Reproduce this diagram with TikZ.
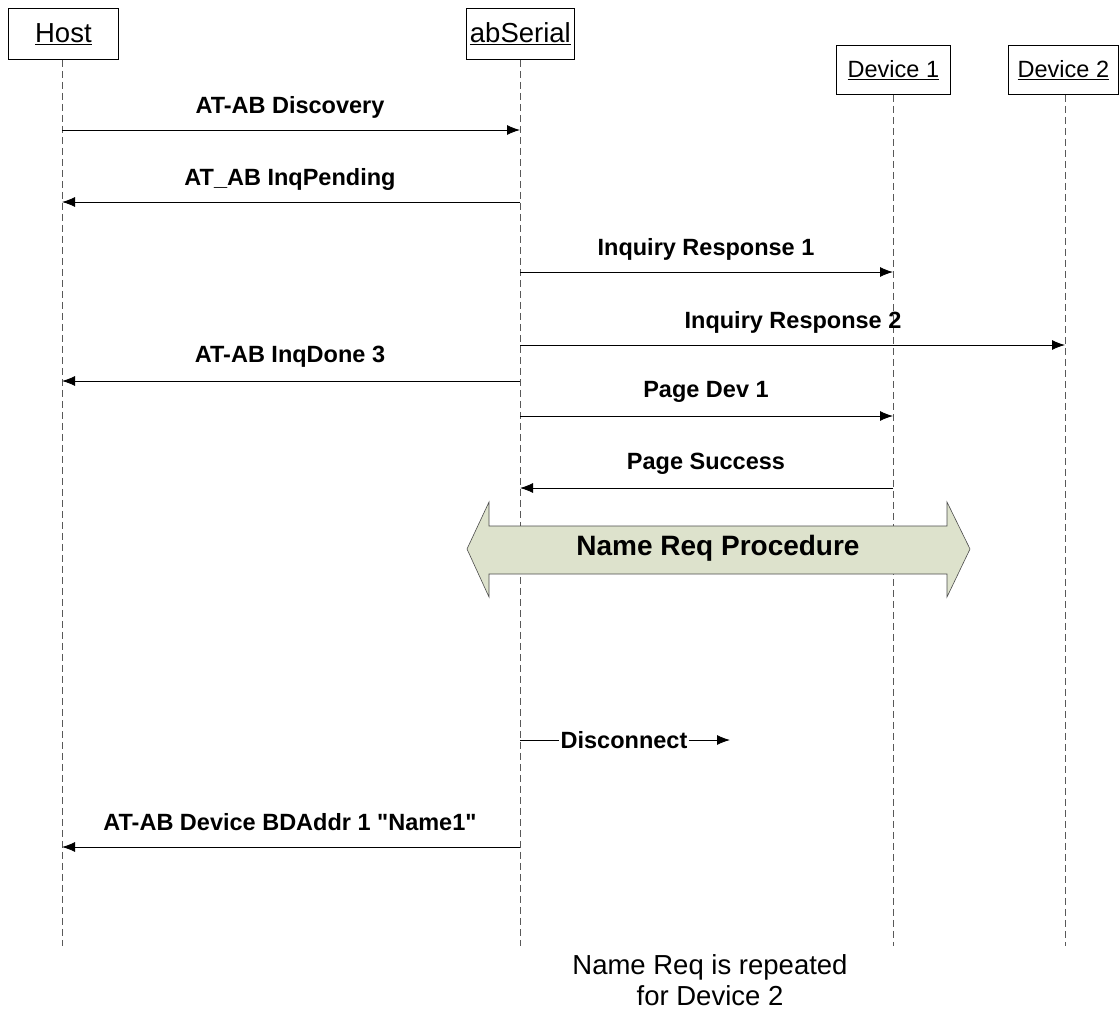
\documentclass[tikz,border=0pt]{standalone}
\usepackage{fontspec}
\setmainfont{Liberation Sans}[Ligatures=TeXOff]
\usetikzlibrary{arrows.meta}
\definecolor{procfill}{HTML}{DDE2CC}
\tikzset{
  actor/.style={draw=black, line width=0.8pt, fill=white, inner sep=0pt, anchor=north west},
  lifeline/.style={draw=gray!70!black, line width=0.8pt, dash pattern=on 7pt off 4pt},
  msg/.style={draw=black, line width=0.9pt, -{Latex[length=13pt,width=10pt]}},
  msglabel/.style={font=\fontsize{23.5}{27}\selectfont\bfseries, inner sep=0pt},
}
\begin{document}
\begin{tikzpicture}[x=1pt,y=-1pt]
\useasboundingbox (0,0) rectangle (1119,1010);

% participants
\node[actor, minimum width=110pt, minimum height=51pt] (host) at (8,8)
  {\fontsize{27.5}{32}\selectfont\underline{Host}};
\node[actor, minimum width=108pt, minimum height=51pt] (serial) at (466,8)
  {\fontsize{27.5}{32}\selectfont\underline{abSerial}};
\node[actor, minimum width=114pt, minimum height=49pt] (dev1) at (836,45)
  {\fontsize{23.5}{28}\selectfont\underline{Device 1}};
\node[actor, minimum width=110pt, minimum height=49pt] (dev2) at (1008,45)
  {\fontsize{23.5}{28}\selectfont\underline{Device 2}};

% lifelines
\coordinate (hostEnd) at (62,946);
\coordinate (serialEnd) at (520,946);
\coordinate (dev1End) at (893,946);
\coordinate (dev2End) at (1065,946);
\draw[lifeline] (host.south -| hostEnd) -- (hostEnd);
\draw[lifeline] (serial.south -| serialEnd) -- (serialEnd);
\draw[lifeline] (dev1.south -| dev1End) -- (dev1End);
\draw[lifeline] (dev2.south -| dev2End) -- (dev2End);

% message end points
\coordinate (m1a) at (62,130);  \coordinate (m1b) at (520,130);
\coordinate (m2a) at (520,202); \coordinate (m2b) at (62,202);
\coordinate (m3a) at (520,272); \coordinate (m3b) at (893,272);
\coordinate (m4a) at (520,345); \coordinate (m4b) at (1065,345);
\coordinate (m5a) at (520,381); \coordinate (m5b) at (62,381);
\coordinate (m6a) at (520,416); \coordinate (m6b) at (893,416);
\coordinate (m7a) at (893,488); \coordinate (m7b) at (520,488);
\coordinate (m9a) at (520,740); \coordinate (m9b) at (730,740);
\coordinate (m10a) at (520,847); \coordinate (m10b) at (62,847);

% messages
\draw[msg] (m1a) -- (m1b);
\node[msglabel] (l1) at (290,107) {AT-AB Discovery};
\draw[msg] (m2a) -- (m2b);
\node[msglabel] (l2) at (290,179) {AT\_AB InqPending};
\draw[msg] (m3a) -- (m3b);
\node[msglabel] (l3) at (706,249) {Inquiry Response 1};
\draw[msg] (m4a) -- (m4b);
\node[msglabel] (l4) at (793,322) {Inquiry Response 2};
\draw[msg] (m5a) -- (m5b);
\node[msglabel] (l5) at (290,357) {AT-AB InqDone 3};
\draw[msg] (m6a) -- (m6b);
\node[msglabel] (l6) at (706,392) {Page Dev 1};
\draw[msg] (m7a) -- (m7b);
\node[msglabel] (l7) at (706,464) {Page Success};

% name request procedure block arrow
\draw[draw=gray!60!black, line width=0.6pt, fill=procfill]
  (467,549) -- (489,502) -- (489,526) -- (947,526) -- (947,502) -- (970,549)
  -- (947,597) -- (947,574) -- (489,574) -- (489,597) -- cycle;
\node[font=\fontsize{28}{32}\selectfont\bfseries, inner sep=0pt] (proc) at (718,548)
  {Name Req Procedure};

% disconnect
\node[msglabel, inner sep=1pt] (disc) at (624,740) {Disconnect};
\draw[draw=black, line width=0.9pt] (m9a) -- (disc.west);
\draw[msg] (disc.east) -- (m9b);

\draw[msg] (m10a) -- (m10b);
\node[msglabel] (l10) at (290,822) {AT-AB Device BDAddr 1 "Name1"};

% note
\node[font=\fontsize{27.5}{31}\selectfont, align=center, inner sep=0pt] (note) at (710,980)
  {Name Req is repeated\\for Device 2};
\end{tikzpicture}
\end{document}
